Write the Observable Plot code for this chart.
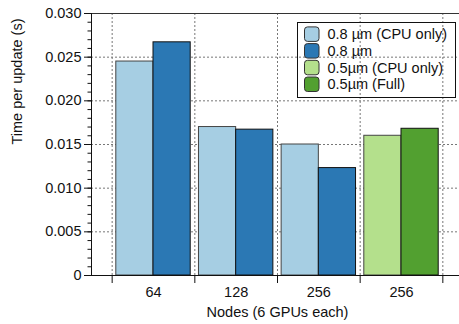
<!DOCTYPE html>
<html>
<head>
<meta charset="utf-8">
<script src="https://cdn.jsdelivr.net/npm/d3@7"></script>
<script src="https://cdn.jsdelivr.net/npm/@observablehq/plot@0.6"></script>
<style>
  html, body { margin: 0; padding: 0; background: white; overflow: hidden; }
  #chart svg { max-width: none !important; display: block; }
</style>
</head>
<body>
<div id="chart"></div>
<script>
// ---- data ----
const groupLabels = ["64", "128", "256", "256"];
const seriesNames = ["0.8 µm (CPU only)", "0.8 µm", "0.5µm (CPU only)", "0.5µm (Full)"];
const seriesColors = ["#a6cee3", "#2b78b4", "#b4e08c", "#52a030"];
const cpuOnlyValues = [0.0245, 0.0170, 0.0150, 0.0160];
const fullValues = [0.0267, 0.0167, 0.0123, 0.0168];
// which series each group's (cpu-only, full) pair belongs to
const groupSeries = [[0, 1], [0, 1], [0, 1], [2, 3]];
const yMajorTicks = [0, 0.005, 0.010, 0.015, 0.020, 0.025, 0.030];
const xTitle = "Nodes (6 GPUs each)";
const yTitle = "Time per update (s)";

// ---- table ----
const bars = [];
groupLabels.forEach((g, i) => {
  [cpuOnlyValues[i], fullValues[i]].forEach((v, j) => {
    const s = groupSeries[i][j];
    bars.push({group: i, slot: j, value: v, series: seriesNames[s], color: seriesColors[s]});
  });
});
const gap = 0.05, bw = 0.45;
const yMinor = d3.range(0, 31).map(d => d / 1000);
const yGrid = yMajorTicks.slice(1, -1);
const xBounds = d3.range(0, groupLabels.length + 1);
const font = "Liberation Sans, Arial, Helvetica, sans-serif";

const plot = Plot.plot({
  width: 464,
  height: 324,
  marginLeft: 91,
  marginRight: 1,
  marginTop: 13,
  marginBottom: 49,
  style: {fontFamily: font, fontSize: "14.5px", background: "white", color: "#111"},
  x: {type: "linear", domain: [-0.25, 4.25], axis: null, label: null},
  y: {type: "linear", domain: [0, 0.03], axis: null, label: null},
  marks: [
    // dotted grid
    Plot.ruleY(yGrid, {y: d => d, stroke: "#777", strokeWidth: 1, strokeDasharray: "2,2"}),
    Plot.ruleX(xBounds, {x: d => d, stroke: "#777", strokeWidth: 1, strokeDasharray: "2,2"}),
    // bars
    Plot.rect(bars, {
      x1: d => d.group + gap + d.slot * bw,
      x2: d => d.group + gap + (d.slot + 1) * bw,
      y1: 0,
      y2: "value",
      fill: "color",
      stroke: d => d.slot === 0 ? "#444" : "#111",
      strokeWidth: 1
    }),
    // frame
    Plot.ruleY([0.03], {stroke: "#333", strokeWidth: 1.2}),
    Plot.ruleY([0], {stroke: "#111", strokeWidth: 1}),
    Plot.ruleX([-0.25], {stroke: "#111", strokeWidth: 1}),
    // y axis
    Plot.axisY({ticks: yMinor, tickSize: 3.5, tickFormat: () => "", label: null, stroke: "#111"}),
    Plot.axisY({ticks: yMajorTicks, tickSize: 7, tickPadding: 3, label: null,
      tickFormat: d => d === 0 ? "0" : d.toFixed(3), fill: "#111", stroke: "#111"}),
    // x axis ticks at group boundaries
    Plot.axisX({ticks: xBounds, tickSize: 8, tickFormat: () => "", label: null, stroke: "#111"}),
    // x labels at group centers
    Plot.text(groupLabels.map((g, i) => ({x: i + 0.5, label: g})), {
      x: "x", y: 0, text: "label", dy: 16.5, lineAnchor: "middle", fill: "#111"
    }),
    // titles
    Plot.text([xTitle], {frameAnchor: "bottom", dy: 37, lineAnchor: "middle", fill: "#111"}),
    Plot.text([yTitle], {frameAnchor: "left", dx: -74, rotate: -90, lineAnchor: "middle", fill: "#111"})
  ]
});

document.getElementById("chart").appendChild(plot);

// ---- legend ----
const svg = d3.select(plot);
const lg = svg.append("g").attr("font-family", font).attr("font-size", "14.5px").attr("text-anchor", "start");
lg.append("rect").attr("x", 297.5).attr("y", 22.5).attr("width", 158).attr("height", 75)
  .attr("fill", "none").attr("stroke", "#111").attr("stroke-width", 1);
seriesNames.forEach((name, i) => {
  const cy = 34.2 + i * 16.7;
  lg.append("rect").attr("x", 304.5).attr("y", cy - 7.3).attr("width", 14.5).attr("height", 14.5)
    .attr("rx", 3).attr("fill", seriesColors[i]).attr("stroke", "#333").attr("stroke-width", 1);
  lg.append("text").attr("x", 327.5).attr("y", cy).attr("dy", "0.35em").attr("text-anchor", "start")
    .attr("fill", "#111").text(name);
});
</script>
</body>
</html>
